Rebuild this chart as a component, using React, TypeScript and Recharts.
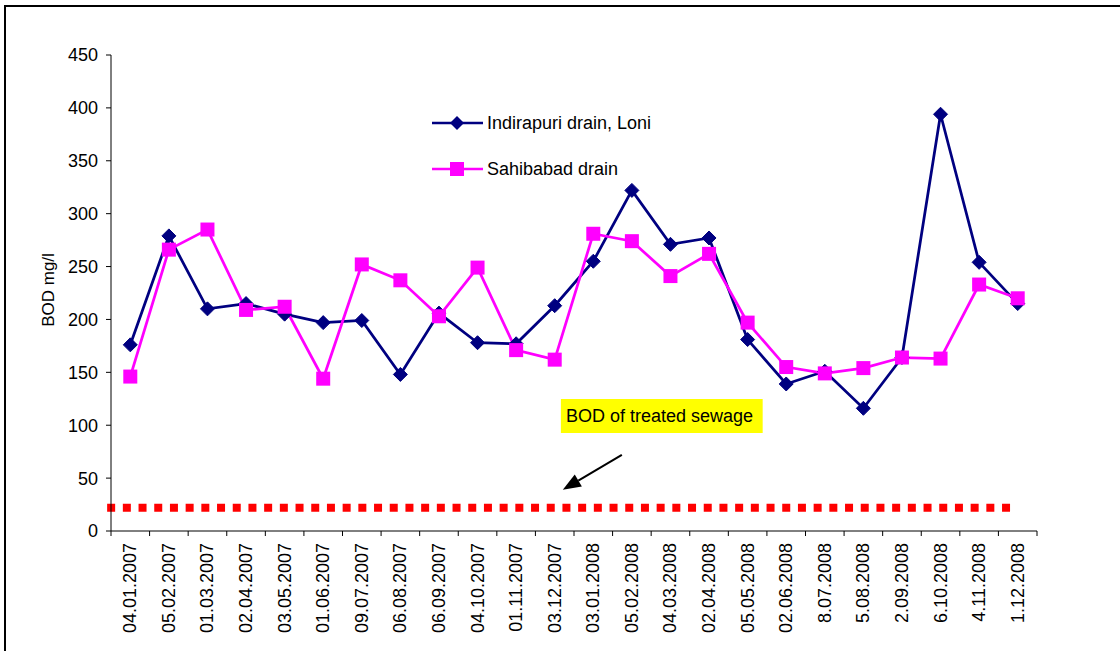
import React from 'react';
import {
  LineChart,
  Line,
  XAxis,
  YAxis,
  ReferenceLine,
  ReferenceArea,
} from 'recharts';

// Sampling dates (category axis)
const DATES = [
  '04.01.2007', '05.02.2007', '01.03.2007', '02.04.2007', '03.05.2007', '01.06.2007',
  '09.07.2007', '06.08.2007', '06.09.2007', '04.10.2007', '01.11.2007', '03.12.2007',
  '03.01.2008', '05.02.2008', '04.03.2008', '02.04.2008', '05.05.2008', '02.06.2008',
  '8.07.2008', '5.08.2008', '2.09.2008', '6.10.2008', '4.11.2008', '1.12.2008',
];

// BOD (mg/l) measured in each drain
const INDIRAPURI = [
  176, 279, 210, 215, 205, 197, 199, 148, 206, 178, 177, 213,
  255, 322, 271, 277, 181, 139, 151, 116, 164, 394, 254, 215,
];
const SAHIBABAD = [
  146, 266, 285, 209, 212, 144, 252, 237, 203, 249, 171, 162,
  281, 274, 241, 262, 197, 155, 149, 154, 164, 163, 233, 220,
];

// BOD of treated sewage (mg/l)
const TREATED_BOD = 22;

const Y_TICKS = [0, 50, 100, 150, 200, 250, 300, 350, 400, 450];

const NAVY = '#000080';
const MAGENTA = '#FF00FF';
const FONT = '"Liberation Sans", Arial, Helvetica, sans-serif';

// slot = centre of each date's band on a continuous 0..N scale (used for annotations)
const data = DATES.map((date, i) => ({
  date,
  slot: i + 0.5,
  indirapuri: INDIRAPURI[i],
  sahibabad: SAHIBABAD[i],
}));

const Diamond = (props: any) => {
  const { cx, cy, index } = props;
  if (cx == null || cy == null) return <g key={`d-${index}`} />;
  const r = 7;
  return (
    <polygon
      key={`d-${index}`}
      points={`${cx},${cy - r} ${cx + r},${cy} ${cx},${cy + r} ${cx - r},${cy}`}
      fill={NAVY}
      stroke={NAVY}
      strokeWidth={1}
    />
  );
};

const Square = (props: any) => {
  const { cx, cy, index } = props;
  if (cx == null || cy == null) return <g key={`s-${index}`} />;
  const h = 7;
  return <rect key={`s-${index}`} x={cx - h} y={cy - h} width={2 * h} height={2 * h} fill={MAGENTA} />;
};

// Date labels, rotated, with tick marks at the category boundaries
const DateTick = (props: any) => {
  const { x, y, payload, index } = props;
  const half = payload && payload.offset ? payload.offset : 0;
  const ty = y + 12;
  return (
    <g>
      <line x1={x - half} y1={y} x2={x - half} y2={y + 5} stroke="#000" strokeWidth={1} />
      {index === DATES.length - 1 && (
        <line x1={x + half} y1={y} x2={x + half} y2={y + 5} stroke="#000" strokeWidth={1} />
      )}
      <text
        x={x}
        y={ty}
        transform={`rotate(-90 ${x} ${ty})`}
        textAnchor="end"
        dominantBaseline="central"
        fontSize={18}
        fill="#000"
        fontFamily={FONT}
      >
        {payload.value}
      </text>
    </g>
  );
};

const YLabel = (props: any) => {
  const vb = props.viewBox || {};
  const cx = (vb.x || 0) + 54;
  const cy = (vb.y || 0) + (vb.height || 0) / 2 - 3;
  return (
    <text
      x={cx}
      y={cy}
      transform={`rotate(-90 ${cx} ${cy})`}
      textAnchor="middle"
      fontSize={17}
      fill="#000"
      fontFamily={FONT}
    >
      BOD mg/l
    </text>
  );
};

const Arrow = (props: any) => {
  const { x1, y1, x2, y2 } = props;
  if ([x1, y1, x2, y2].some((v) => v == null || Number.isNaN(v))) return <g />;
  const dx = x2 - x1;
  const dy = y2 - y1;
  const len = Math.sqrt(dx * dx + dy * dy) || 1;
  const ux = dx / len;
  const uy = dy / len;
  const headLen = 18;
  const headHalf = 7;
  const bx = x2 - ux * headLen;
  const by = y2 - uy * headLen;
  const nx = -uy;
  const ny = ux;
  return (
    <g>
      <line x1={x1} y1={y1} x2={bx} y2={by} stroke="#000" strokeWidth={2} />
      <polygon
        points={`${x2},${y2} ${bx + nx * headHalf},${by + ny * headHalf} ${bx - nx * headHalf},${by - ny * headHalf}`}
        fill="#000"
      />
    </g>
  );
};

const LegendBox = () => (
  <div
    style={{
      position: 'absolute',
      left: 432,
      top: 111,
      fontFamily: FONT,
      fontSize: 18,
      color: '#000',
      lineHeight: '24px',
    }}
  >
    <div style={{ display: 'flex', alignItems: 'center', height: 24 }}>
      <svg width={55} height={20} style={{ display: 'block' }}>
        <line x1={0} y1={10} x2={51} y2={10} stroke={NAVY} strokeWidth={2.5} />
        <polygon points="25,3 32,10 25,17 18,10" fill={NAVY} />
      </svg>
      <span>Indirapuri drain, Loni</span>
    </div>
    <div style={{ display: 'flex', alignItems: 'center', height: 24, marginTop: 22 }}>
      <svg width={55} height={20} style={{ display: 'block' }}>
        <line x1={0} y1={10} x2={51} y2={10} stroke={MAGENTA} strokeWidth={2.5} />
        <rect x={18} y={3} width={14} height={14} fill={MAGENTA} />
      </svg>
      <span>Sahibabad drain</span>
    </div>
  </div>
);

export default function App() {
  return (
    <div
      style={{
        position: 'absolute',
        left: 0,
        top: 0,
        width: 1120,
        height: 651,
        overflow: 'hidden',
        background: '#fff',
        fontFamily: FONT,
      }}
    >
      <div
        style={{
          position: 'absolute',
          left: 4,
          top: 5,
          width: 1300,
          height: 900,
          border: '2px solid #000',
          boxSizing: 'border-box',
        }}
      />
      <div style={{ position: 'absolute', left: 0, top: 0 }}>
        <LineChart
          width={1120}
          height={651}
          data={data}
          margin={{ top: 55, right: 83, left: 0, bottom: 0 }}
        >
          <XAxis
            dataKey="date"
            scale="band"
            interval={0}
            height={120}
            tickSize={0}
            tickMargin={0}
            tickLine={false}
            axisLine={{ stroke: '#000', strokeWidth: 1 }}
            tick={<DateTick />}
          />
          <XAxis
            xAxisId="r"
            dataKey="slot"
            type="number"
            scale="linear"
            domain={[0, DATES.length]}
            allowDataOverflow
            hide
          />
          <YAxis
            width={111}
            domain={[0, 450]}
            ticks={Y_TICKS}
            interval={0}
            tickSize={5}
            tickMargin={8}
            axisLine={{ stroke: '#000', strokeWidth: 1 }}
            tickLine={{ stroke: '#000', strokeWidth: 1 }}
            tick={{ fill: '#000', fontSize: 18, fontFamily: FONT }}
            label={<YLabel />}
          />
          <ReferenceLine
            xAxisId="r"
            segment={[
              { x: -0.1, y: TREATED_BOD },
              { x: 23.48, y: TREATED_BOD },
            ]}
            ifOverflow="visible"
            stroke="#FF0000"
            strokeWidth={8}
            strokeDasharray="8 7.7"
          />
          <ReferenceArea
            xAxisId="r"
            x1={11.66}
            x2={16.89}
            y1={92.6}
            y2={124.8}
            fill="#FFFF00"
            fillOpacity={1}
            stroke="none"
            label={{
              value: 'BOD of treated sewage',
              position: 'insideLeft',
              offset: 5,
              fill: '#000',
              fontSize: 18,
              fontFamily: FONT,
            }}
          />
          <ReferenceLine
            xAxisId="r"
            segment={[
              { x: 13.24, y: 72 },
              { x: 11.71, y: 39 },
            ]}
            ifOverflow="visible"
            shape={<Arrow />}
          />
          <Line
            dataKey="indirapuri"
            name="Indirapuri drain, Loni"
            stroke={NAVY}
            strokeWidth={2.75}
            dot={<Diamond />}
            activeDot={false}
            isAnimationActive={false}
          />
          <Line
            dataKey="sahibabad"
            name="Sahibabad drain"
            stroke={MAGENTA}
            strokeWidth={2.75}
            dot={<Square />}
            activeDot={false}
            isAnimationActive={false}
          />
        </LineChart>
      </div>
      <LegendBox />
    </div>
  );
}
